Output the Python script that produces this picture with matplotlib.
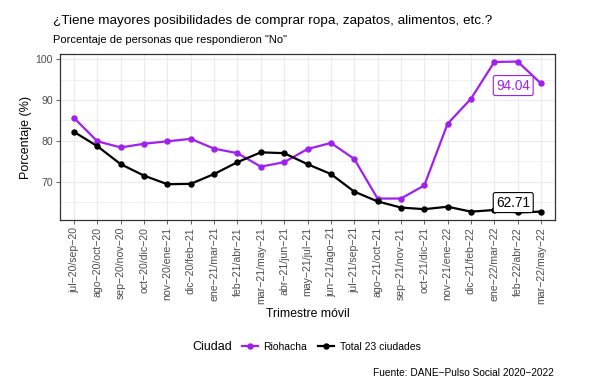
import numpy as np
import matplotlib.pyplot as plt
from matplotlib.offsetbox import HPacker

plt.rcParams['font.family'] = ['Liberation Sans', 'DejaVu Sans']

trimestres = ["jul−20/sep−20", "ago−20/oct−20", "sep−20/nov−20", "oct−20/dic−20",
              "nov−20/ene−21", "dic−20/feb−21", "ene−21/mar−21", "feb−21/abr−21",
              "mar−21/may−21", "abr−21/jun−21", "may−21/jul−21", "jun−21/ago−21",
              "jul−21/sep−21", "ago−21/oct−21", "sep−21/nov−21", "oct−21/dic−21",
              "nov−21/ene−22", "dic−21/feb−22", "ene−22/mar−22", "feb−22/abr−22",
              "mar−22/may−22"]
riohacha = [85.6, 79.9, 78.4, 79.3, 79.9, 80.5, 78.1, 77.0, 73.7, 74.8, 78.0,
            79.5, 75.6, 65.9, 65.9, 69.1, 84.2, 90.3, 99.3, 99.4, 94.04]
total = [82.2, 78.7, 74.3, 71.5, 69.4, 69.5, 71.9, 74.8, 77.2, 77.0, 74.3,
         71.9, 67.6, 65.2, 63.7, 63.3, 63.9, 62.7, 63.1, 62.5, 62.71]

purple = "#A020F0"
x = np.arange(len(trimestres))

fig = plt.figure(figsize=(5.89, 3.90), dpi=100)
ax = fig.add_axes([0.1019, 0.4359, 0.8404, 0.4256])

ax.plot(x, riohacha, color=purple, lw=1.6, marker='o', ms=3.6, label="Riohacha", zorder=3)
ax.plot(x, total, color="black", lw=1.6, marker='o', ms=3.6, label="Total 23 ciudades", zorder=3)

# etiquetas del ultimo valor
ax.annotate(f"{riohacha[-1]:.2f}", (x[-1], riohacha[-1]), xytext=(-20, -1.5),
            textcoords='offset points', ha='center', va='center', fontsize=9.8,
            color=purple, bbox=dict(boxstyle='round,pad=0.22,rounding_size=0.15',
                                    fc='white', ec=purple, lw=0.8), zorder=4)
ax.annotate(f"{total[-1]:.2f}", (x[-1], total[-1]), xytext=(-20, 6.5),
            textcoords='offset points', ha='center', va='center', fontsize=9.8,
            color='black', bbox=dict(boxstyle='round,pad=0.22,rounding_size=0.15',
                                     fc='white', ec='black', lw=0.8), zorder=4)

lo = min(min(riohacha), min(total))
hi = max(max(riohacha), max(total))
pad = (hi - lo) * 0.05
ax.set_ylim(lo - pad, hi + pad)
ax.set_xlim(-0.6, len(x) - 0.4)

ax.set_yticks([70, 80, 90, 100])
ax.set_yticks([65, 75, 85, 95], minor=True)
ax.set_xticks(x)
ax.set_xticklabels(trimestres, rotation=90, ha='center', va='top')
ax.tick_params(axis='both', labelsize=7.6, colors='#4D4D4D', length=3, width=0.6, pad=2)
ax.tick_params(axis='y', which='minor', length=0)

ax.grid(True, which='major', color='#EBEBEB', lw=0.8)
ax.grid(True, which='minor', axis='y', color='#EBEBEB', lw=0.5)
ax.set_axisbelow(True)
for s in ax.spines.values():
    s.set_color('#333333')
    s.set_linewidth(0.9)

ax.set_ylabel("Porcentaje (%)", fontsize=9, labelpad=3)
ax.set_xlabel("Trimestre móvil", fontsize=8.8, labelpad=3)

fig.text(0.09, 0.945, "¿Tiene mayores posibilidades de comprar ropa, zapatos, alimentos, etc.?",
         fontsize=9.7, ha='left', va='center')
fig.text(0.09, 0.897, 'Porcentaje de personas que respondieron "No"',
         fontsize=8, ha='left', va='center')

leg = fig.legend(loc='center', bbox_to_anchor=(0.52, 0.11), ncol=2, frameon=False,
                 fontsize=7.5, title="Ciudad", handlelength=1.6, columnspacing=1.0,
                 handletextpad=0.5)
leg.get_title().set_fontsize(9)
# titulo a la izquierda de las entradas
box = leg._legend_box
box._children = [HPacker(children=box._children[:], align='center', pad=0, sep=7)]
fig.text(0.94, 0.043, "Fuente: DANE−Pulso Social 2020−2022", fontsize=7.3,
         ha='right', va='center')

fig.savefig("out.png", dpi=100)
